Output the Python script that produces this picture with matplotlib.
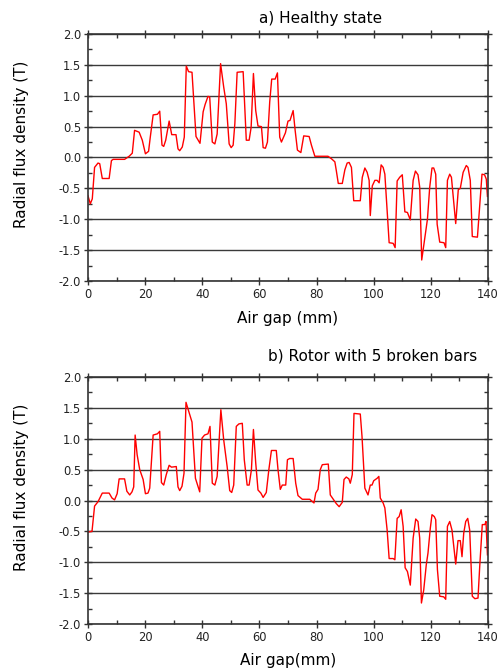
import numpy as np
import matplotlib
matplotlib.use("Agg")
import matplotlib.pyplot as plt
from matplotlib.ticker import MultipleLocator, FormatStrFormatter

plt.rcParams['font.family'] = ['DejaVu Sans']
plt.rcParams['axes.unicode_minus'] = False

# healthy machine: air gap position (mm) and radial flux density (T)
gap_a = [0, 0.8, 1.5, 2.3, 3.5, 4.1, 5.0, 7.4, 8.2, 8.8, 12.8, 14.4, 15.5, 16.3, 17.9,
         19.0, 20.1, 21.2, 21.8, 22.8, 24.3, 25.1, 25.9, 26.5, 27.2, 27.8, 28.4, 29.3,
         30.8, 31.5, 32.1, 33.0, 33.7, 34.4, 35.2, 36.4, 37.8, 39.2, 40.3, 41.0, 42.0,
         42.6, 43.5, 44.4, 45.2, 46.4, 47.5, 48.4, 49.4, 50.1, 50.8, 51.4, 52.2, 54.3,
         55.4, 56.4, 57.1, 57.9, 58.7, 59.5, 60.7, 61.3, 62.1, 62.8, 63.6, 64.3, 65.5,
         66.3, 67.1, 67.7, 69.1, 70.0, 70.7, 71.8, 72.5, 73.3, 74.5, 75.5, 77.4, 78.2,
         79.4, 81.1, 84.0, 85.2, 86.4, 86.9, 87.6, 89.0, 89.9, 90.7, 91.4, 92.2, 93.0,
         95.3, 96.0, 96.9, 97.7, 98.4, 98.8, 99.5, 100.4, 101.2, 101.9, 102.6, 103.3,
         103.9, 105.4, 106.8, 107.5, 108.2, 109.1, 110.0, 110.9, 111.8, 112.8, 113.8,
         114.6, 115.5, 116.1, 116.8, 117.9, 118.8, 119.6, 120.4, 121.0, 121.7, 122.2,
         123.1, 124.6, 125.2, 125.8, 126.6, 127.2, 128.7, 129.6, 130.3, 131.3, 132.4,
         133.0, 133.8, 134.5, 136.3, 137.1, 137.9, 138.8, 139.4, 139.8]
flux_a = [-0.62, -0.75, -0.67, -0.16, -0.09, -0.10, -0.34, -0.34, -0.05, -0.03, -0.03,
          0.02, 0.07, 0.44, 0.41, 0.28, 0.06, 0.10, 0.33, 0.69, 0.70, 0.75, 0.20, 0.18,
          0.28, 0.44, 0.59, 0.37, 0.37, 0.14, 0.11, 0.17, 0.33, 1.48, 1.39, 1.38, 0.34,
          0.23, 0.74, 0.86, 0.99, 0.98, 0.25, 0.22, 0.38, 1.52, 1.14, 0.87, 0.22, 0.16,
          0.20, 0.55, 1.38, 1.39, 0.28, 0.28, 0.49, 1.36, 0.76, 0.51, 0.50, 0.16, 0.15,
          0.25, 0.90, 1.27, 1.27, 1.37, 0.33, 0.25, 0.40, 0.59, 0.60, 0.76, 0.44, 0.12,
          0.08, 0.35, 0.34, 0.20, 0.02, 0.02, 0.02, -0.02, -0.07, -0.21, -0.42, -0.42,
          -0.20, -0.09, -0.08, -0.16, -0.70, -0.70, -0.32, -0.17, -0.24, -0.37, -0.94,
          -0.46, -0.37, -0.37, -0.41, -0.12, -0.16, -0.27, -1.38, -1.39, -1.46, -0.38,
          -0.32, -0.28, -0.88, -0.89, -1.01, -0.37, -0.22, -0.28, -0.48, -1.66, -1.30,
          -1.00, -0.48, -0.17, -0.17, -0.27, -1.08, -1.37, -1.38, -1.46, -0.37, -0.27,
          -0.32, -1.07, -0.52, -0.50, -0.24, -0.13, -0.16, -0.37, -1.28, -1.29, -0.78,
          -0.27, -0.28, -0.35, -0.63]

# rotor with 5 broken bars
gap_b = [0, 1.4, 2.3, 3.5, 5.0, 7.4, 8.4, 9.3, 10.2, 10.9, 12.8, 13.6, 14.6, 15.4, 16.0,
         16.5, 17.2, 18.1, 19.3, 20.1, 21.0, 21.6, 22.8, 24.3, 25.1, 25.7, 26.5, 27.4,
         28.4, 29.2, 30.9, 31.5, 32.1, 32.9, 33.6, 34.3, 36.4, 37.6, 39.1, 39.9, 40.8,
         42.0, 42.7, 43.5, 44.4, 45.2, 46.5, 47.5, 48.7, 49.6, 50.3, 51.0, 51.9, 52.8,
         54.0, 54.7, 55.7, 56.4, 57.2, 57.9, 58.7, 59.5, 60.5, 61.3, 62.4, 63.3, 64.2,
         65.9, 66.5, 67.3, 68.0, 69.2, 69.8, 70.6, 71.8, 72.7, 73.5, 75.0, 77.6, 79.1,
         79.7, 80.5, 81.3, 82.0, 84.1, 84.8, 86.0, 86.9, 87.9, 89.0, 89.6, 90.4, 91.3,
         91.8, 92.5, 93.1, 95.3, 95.9, 96.9, 98.0, 98.8, 99.4, 100.0, 101.2, 101.8,
         102.3, 103.3, 103.9, 104.7, 105.4, 106.8, 107.4, 108.2, 108.9, 109.6, 110.3,
         111.0, 111.8, 112.8, 113.8, 114.7, 115.5, 116.1, 116.7, 117.5, 118.4, 119.0,
         119.8, 120.4, 121.2, 121.7, 122.3, 123.1, 124.5, 125.2, 125.8, 126.6, 127.4,
         128.7, 129.5, 130.3, 130.9, 131.5, 132.2, 132.9, 133.6, 134.5, 135.4, 136.5,
         137.1, 138.0, 138.9, 139.3, 139.8]
flux_b = [-0.51, -0.50, -0.09, -0.02, 0.12, 0.12, 0.04, 0.01, 0.11, 0.35, 0.35, 0.15,
          0.09, 0.14, 0.22, 1.06, 0.74, 0.50, 0.34, 0.11, 0.12, 0.20, 1.06, 1.08, 1.12,
          0.29, 0.25, 0.42, 0.57, 0.54, 0.55, 0.22, 0.16, 0.23, 0.44, 1.59, 1.27, 0.36,
          0.14, 1.01, 1.06, 1.08, 1.20, 0.28, 0.25, 0.39, 1.47, 0.98, 0.55, 0.16, 0.13,
          0.25, 1.20, 1.24, 1.25, 0.66, 0.25, 0.25, 0.50, 1.15, 0.61, 0.17, 0.12, 0.05,
          0.13, 0.50, 0.81, 0.81, 0.50, 0.18, 0.25, 0.25, 0.66, 0.68, 0.68, 0.28, 0.08,
          0.02, 0.02, -0.04, 0.12, 0.18, 0.50, 0.58, 0.59, 0.09, 0.01, -0.05, -0.10,
          -0.03, 0.34, 0.38, 0.35, 0.28, 0.42, 1.41, 1.40, 1.04, 0.20, 0.09, 0.25, 0.25,
          0.32, 0.36, 0.39, 0.04, -0.04, -0.12, -0.48, -0.94, -0.94, -0.96, -0.29, -0.26,
          -0.15, -0.42, -1.09, -1.15, -1.37, -0.61, -0.30, -0.34, -0.61, -1.66, -1.45,
          -1.04, -0.85, -0.45, -0.23, -0.26, -0.31, -1.12, -1.55, -1.56, -1.60, -0.42,
          -0.34, -0.48, -1.03, -0.65, -0.65, -0.91, -0.53, -0.34, -0.29, -0.48, -1.55,
          -1.59, -1.58, -1.07, -0.39, -0.39, -0.34, -0.88]

panels = [
    (gap_a, flux_a, "a) Healthy state", "Air gap (mm)"),
    (gap_b, flux_b, "b) Rotor with 5 broken bars", "Air gap(mm)"),
]

W, H = 502, 668
fig = plt.figure(figsize=(W / 100, H / 100), dpi=100)

# axes boxes in pixels: left, top, right, bottom
boxes = [(88, 34, 488, 281), (88, 377, 488, 624)]
title_pos = [(321, 18), (373, 356)]
xlabel_y = [318, 660]

for (gx, fx, title, xlab), (l, t, r, b), (tx, ty), xy in zip(panels, boxes, title_pos, xlabel_y):
    ax = fig.add_axes([l / W, 1 - b / H, (r - l) / W, (b - t) / H])
    ax.plot(gx, fx, color='red', lw=1.0)
    ax.set_xlim(0, 140)
    ax.set_ylim(-2.0, 2.0)
    ax.xaxis.set_major_locator(MultipleLocator(20))
    ax.xaxis.set_minor_locator(MultipleLocator(10))
    ax.yaxis.set_major_locator(MultipleLocator(0.5))
    ax.yaxis.set_minor_locator(MultipleLocator(0.25))
    ax.yaxis.set_major_formatter(FormatStrFormatter('%.1f'))
    ax.yaxis.grid(True, color='#3a3a3a', lw=1.0)
    ax.set_axisbelow(True)
    for s in ax.spines.values():
        s.set_color('#333333')
        s.set_linewidth(1.2)
    ax.tick_params(which='both', top=True, right=True, color='#333333', width=1.0,
                   labelsize=8.3, labelcolor='#222222')
    ax.tick_params(which='major', direction='inout', length=6, pad=2)
    ax.tick_params(which='minor', direction='in', length=3)
    fig.text(tx / W, 1 - ty / H, title, ha='center', va='center', fontsize=11)
    fig.text(288 / W, 1 - xy / H, xlab, ha='center', va='center', fontsize=11)
    fig.text(22 / W, 1 - (t + b - 26) / 2 / H, "Radial flux density (T)", rotation=90,
             ha='center', va='center', fontsize=11)

fig.savefig("out.png", dpi=100)
